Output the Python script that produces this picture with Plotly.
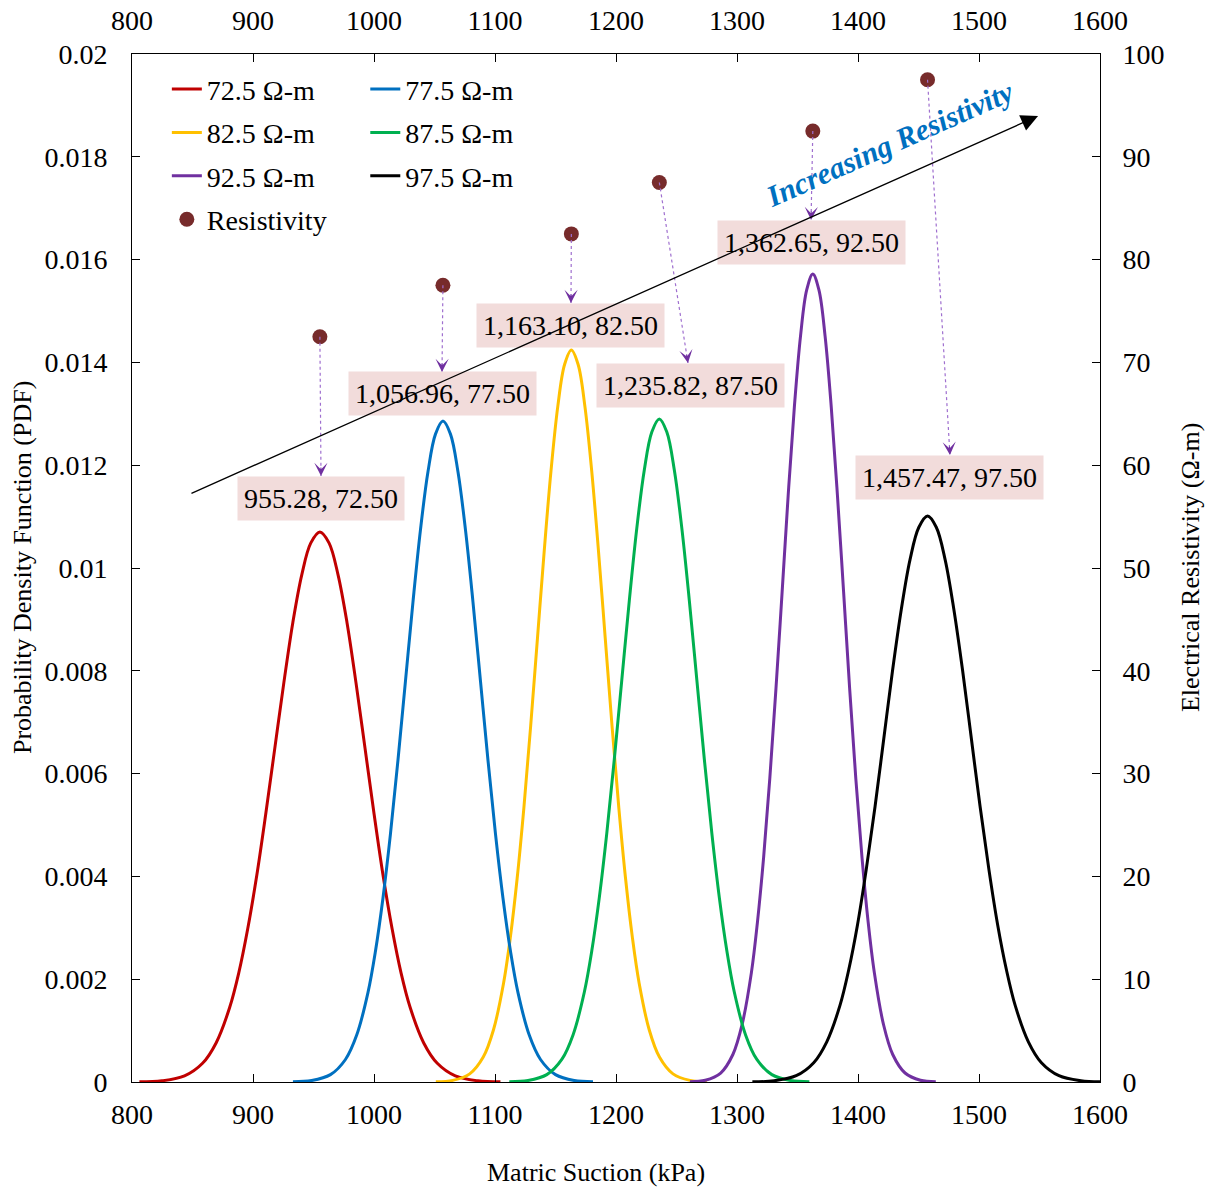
import plotly.graph_objects as go

# ---------------- data ----------------
x_725 = [806.1, 824.8, 843.4, 858.3, 869.5, 880.7, 888.2, 895.6, 903.1, 910.5, 918.0, 925.5, 932.9,
         940.4, 947.8, 955.3, 962.8, 970.2, 977.7, 985.1, 992.6, 1000.1, 1007.5, 1015.0, 1022.4,
         1029.9, 1041.1, 1052.3, 1067.2, 1085.9, 1104.5]
pdf_725 = [0.0000036, 0.0000234, 0.000119, 0.000364, 0.000760, 0.001448, 0.002118, 0.002975,
           0.004016, 0.005208, 0.006490, 0.007770, 0.008937, 0.009877, 0.010488, 0.01070,
           0.010488, 0.009877, 0.008937, 0.007770, 0.006490, 0.005208, 0.004016, 0.002975,
           0.002118, 0.001448, 0.000760, 0.000364, 0.000119, 0.0000234, 0.0000036]

x_775 = [933.0, 948.5, 964.0, 976.4, 985.7, 995.0, 1001.2, 1007.4, 1013.6, 1019.8, 1026.0, 1032.2,
         1038.4, 1044.6, 1050.8, 1057.0, 1063.2, 1069.4, 1075.6, 1081.8, 1088.0, 1094.2, 1100.4,
         1106.6, 1112.8, 1119.0, 1128.3, 1137.6, 1150.0, 1165.5, 1181.0]
pdf_775 = [0.0000043, 0.0000281, 0.000143, 0.000438, 0.000913, 0.001740, 0.002545, 0.003576,
           0.004827, 0.006260, 0.007800, 0.009338, 0.010742, 0.011871, 0.012605, 0.01286,
           0.012605, 0.011871, 0.010742, 0.009338, 0.007800, 0.006260, 0.004827, 0.003576,
           0.002545, 0.001740, 0.000913, 0.000438, 0.000143, 0.0000281, 0.0000043]

x_825 = [1051.1, 1065.1, 1079.1, 1090.3, 1098.7, 1107.1, 1112.7, 1118.3, 1123.9, 1129.5, 1135.1,
         1140.7, 1146.3, 1151.9, 1157.5, 1163.1, 1168.7, 1174.3, 1179.9, 1185.5, 1191.1, 1196.7,
         1202.3, 1207.9, 1213.5, 1219.1, 1227.5, 1235.9, 1247.1, 1261.1, 1275.1]
pdf_825 = [0.0000048, 0.0000311, 0.000158, 0.000485, 0.001011, 0.001927, 0.002818, 0.003959,
           0.005344, 0.006931, 0.008637, 0.010340, 0.011894, 0.013145, 0.013958, 0.01424,
           0.013958, 0.013145, 0.011894, 0.010340, 0.008637, 0.006931, 0.005344, 0.003959,
           0.002818, 0.001927, 0.001011, 0.000485, 0.000158, 0.0000311, 0.0000048]

x_875 = [1111.8, 1127.3, 1142.8, 1155.2, 1164.5, 1173.8, 1180.0, 1186.2, 1192.4, 1198.6, 1204.8,
         1211.0, 1217.2, 1223.4, 1229.6, 1235.8, 1242.0, 1248.2, 1254.4, 1260.6, 1266.8, 1273.0,
         1279.2, 1285.4, 1291.6, 1297.8, 1307.1, 1316.4, 1328.8, 1344.3, 1359.8]
pdf_875 = [0.0000043, 0.0000282, 0.000143, 0.000439, 0.000916, 0.001746, 0.002553, 0.003587,
           0.004841, 0.006279, 0.007824, 0.009367, 0.010775, 0.011908, 0.012645, 0.01290,
           0.012645, 0.011908, 0.010775, 0.009367, 0.007824, 0.006279, 0.004841, 0.003587,
           0.002553, 0.001746, 0.000916, 0.000439, 0.000143, 0.0000282, 0.0000043]

x_925 = [1261.1, 1273.8, 1286.5, 1296.6, 1304.2, 1311.9, 1316.9, 1322.0, 1327.1, 1332.2, 1337.3,
         1342.3, 1347.4, 1352.5, 1357.6, 1362.65, 1367.7, 1372.8, 1377.9, 1383.0, 1388.1, 1393.1,
         1398.2, 1403.3, 1408.4, 1413.5, 1421.1, 1428.7, 1438.9, 1451.6, 1464.3]
pdf_925 = [0.0000053, 0.0000344, 0.000175, 0.000535, 0.001116, 0.002128, 0.003111, 0.004371,
           0.005900, 0.007652, 0.009535, 0.011415, 0.013130, 0.014511, 0.015409, 0.01572,
           0.015409, 0.014511, 0.013130, 0.011415, 0.009535, 0.007652, 0.005900, 0.004371,
           0.003111, 0.002128, 0.001116, 0.000535, 0.000175, 0.0000344, 0.0000053]

x_975 = [1312.7, 1330.8, 1348.9, 1363.4, 1374.2, 1385.1, 1392.3, 1399.6, 1406.8, 1414.1, 1421.3,
         1428.5, 1435.8, 1443.0, 1450.3, 1457.5, 1464.7, 1472.0, 1479.2, 1486.5, 1493.7, 1500.9,
         1508.2, 1515.4, 1522.7, 1529.9, 1540.8, 1551.6, 1566.1, 1584.2, 1600.0]
pdf_975 = [0.0000037, 0.0000241, 0.000122, 0.000375, 0.000782, 0.001490, 0.002179, 0.003061,
           0.004132, 0.005359, 0.006678, 0.007995, 0.009196, 0.010163, 0.010792, 0.01101,
           0.010792, 0.010163, 0.009196, 0.007995, 0.006678, 0.005359, 0.004132, 0.003061,
           0.002179, 0.001490, 0.000782, 0.000375, 0.000122, 0.0000241, 0.0000047]

series_names = ["72.5 Ω-m", "77.5 Ω-m", "82.5 Ω-m", "87.5 Ω-m", "92.5 Ω-m", "97.5 Ω-m"]

# resistivity points: mean matric suction (kPa) vs electrical resistivity (Ω-m)
res_suction = [955.28, 1056.96, 1163.10, 1235.82, 1362.65, 1457.47]
res_value = [72.5, 77.5, 82.5, 87.5, 92.5, 97.5]

x_ticks = [800, 900, 1000, 1100, 1200, 1300, 1400, 1500, 1600]
y_ticks = [0, 0.002, 0.004, 0.006, 0.008, 0.01, 0.012, 0.014, 0.016, 0.018, 0.02]
y_tick_labels = ["0", "0.002", "0.004", "0.006", "0.008", "0.01", "0.012", "0.014",
                 "0.016", "0.018", "0.02"]
y2_ticks = [0, 10, 20, 30, 40, 50, 60, 70, 80, 90, 100]

# ---------------- layout / style ----------------
FONT = "Liberation Serif, Times New Roman, serif"
colors = ["#C00000", "#0070C0", "#FFC000", "#00B050", "#7030A0", "#000000"]
legend_of = ["legend", "legend2", "legend", "legend2", "legend", "legend2"]
xs = [x_725, x_775, x_825, x_875, x_925, x_975]
ys = [pdf_725, pdf_775, pdf_825, pdf_875, pdf_925, pdf_975]

# label-box centres and arrow tips (x in kPa, y on the right axis)
label_pos = [(956.2, 56.8), (1056.2, 67.0), (1162.8, 73.6), (1261.2, 67.8),
             (1361.2, 81.7), (1476.0, 58.8)]
tip_pos = [(956.2, 58.95), (1056.2, 69.07), (1162.8, 75.78), (1259.5, 69.94),
           (1361.2, 83.85), (1476.0, 60.99)]

fig = go.Figure()

order = [0, 2, 4, 1, 3, 5]
for i in order:
    fig.add_trace(go.Scatter(
        x=xs[i], y=ys[i], mode="lines", name=series_names[i],
        line=dict(color=colors[i], width=3, shape="spline", smoothing=1.0),
        legend=legend_of[i], legendgroup=f"g{i}",
        xaxis="x", yaxis="y", hoverinfo="skip"))

fig.add_trace(go.Scatter(
    x=res_suction, y=res_value, mode="markers", name="Resistivity",
    marker=dict(color="#772B2B", size=15), legend="legend", legendgroup="gr",
    xaxis="x", yaxis="y2"))

# invisible trace to show the top axis
fig.add_trace(go.Scatter(x=[x_ticks[0]], y=[0], mode="markers", marker=dict(opacity=0),
                         showlegend=False, hoverinfo="skip", xaxis="x2", yaxis="y"))

PX_PER_X = 968 / 800.0
PX_PER_Y2 = 1028 / 100.0

shapes = []
annotations = []
for sx, sv, (lx, ly), (tx, ty) in zip(res_suction, res_value, label_pos, tip_pos):
    # dotted leader line from the point to the label
    shapes.append(dict(type="line", xref="x", yref="y2", x0=sx, y0=sv, x1=tx, y1=ty,
                       line=dict(color="#9F6FCF", width=1.2, dash="dot"), layer="above"))
    # arrow head at the label
    dxp = (sx - tx) * PX_PER_X
    dyp = (sv - ty) * PX_PER_Y2
    L = (dxp ** 2 + dyp ** 2) ** 0.5
    k = 10.0 / L
    annotations.append(dict(x=tx, y=ty, xref="x", yref="y2",
                            ax=tx + (sx - tx) * k, ay=ty + (sv - ty) * k,
                            axref="x", ayref="y2", text="", showarrow=True,
                            arrowhead=3, arrowsize=2.2, arrowwidth=1,
                            arrowcolor="#7030A0", standoff=0))
    annotations.append(dict(x=lx, y=ly, xref="x", yref="y2",
                            text=f"{sx:,.2f}, {sv:.2f}", showarrow=False,
                            bgcolor="#F2DCDB", borderpad=6,
                            font=dict(family=FONT, size=28, color="black")))

# big trend arrow
annotations.append(dict(x=1548.8, y=0.018794, xref="x", yref="y",
                        ax=847.9, ay=0.01144, axref="x", ayref="y",
                        text="", showarrow=True, arrowhead=2, arrowsize=2.6,
                        arrowwidth=1.3, arrowcolor="black", standoff=0))
annotations.append(dict(x=1426.4, y=0.01825, xref="x", yref="y",
                        text="<b><i>Increasing Resistivity</i></b>", showarrow=False,
                        textangle=-24,
                        font=dict(family=FONT, size=30, color="#0070C0")))

# axis titles
annotations.append(dict(x=0.479, y=-0.0885, xref="paper", yref="paper",
                        xanchor="center", yanchor="middle",
                        text="Matric Suction (kPa)", showarrow=False,
                        font=dict(family=FONT, size=26, color="black")))
annotations.append(dict(x=-0.1136, y=0.5, xref="paper", yref="paper",
                        xanchor="center", yanchor="middle",
                        text="Probability Density Function (PDF)", showarrow=False,
                        textangle=-90, font=dict(family=FONT, size=26, color="black")))
annotations.append(dict(x=1.093, y=0.5, xref="paper", yref="paper",
                        xanchor="center", yanchor="middle",
                        text="Electrical Resistivity (Ω-m)", showarrow=False,
                        textangle=-90, font=dict(family=FONT, size=26, color="black")))

axis_common = dict(showgrid=False, zeroline=False, showline=True, linecolor="black",
                   linewidth=1, ticks="inside", ticklen=8, tickcolor="black",
                   automargin=False,
                   tickfont=dict(family=FONT, size=28, color="black"))

legend_common = dict(font=dict(family=FONT, size=28, color="black"),
                     bgcolor="rgba(0,0,0,0)", yanchor="top", xanchor="left",
                     tracegroupgap=4, itemwidth=30)

fig.update_layout(
    width=1212, height=1188,
    margin=dict(l=132, r=112, t=54, b=106, autoexpand=False),
    paper_bgcolor="white", plot_bgcolor="white",
    font=dict(family=FONT, size=28, color="black"),
    xaxis=dict(range=[800, 1600], tickvals=x_ticks, ticklabelstandoff=7, **axis_common),
    xaxis2=dict(range=[800, 1600], tickvals=x_ticks, overlaying="x", side="top",
                ticklabelstandoff=12, **axis_common),
    yaxis=dict(range=[0, 0.02], tickvals=y_ticks, ticktext=y_tick_labels,
               ticklabelstandoff=18, **axis_common),
    yaxis2=dict(range=[0, 100], tickvals=y2_ticks, overlaying="y", side="right",
                ticklabelstandoff=16, **axis_common),
    legend=dict(x=0.036, y=0.990, **legend_common),
    legend2=dict(x=0.241, y=0.990, **legend_common),
    shapes=shapes,
    annotations=annotations,
    showlegend=True,
)

fig.write_html("out.html", config={"displayModeBar": False},
               post_script="document.body.style.margin='0';document.body.style.overflow='hidden';")
